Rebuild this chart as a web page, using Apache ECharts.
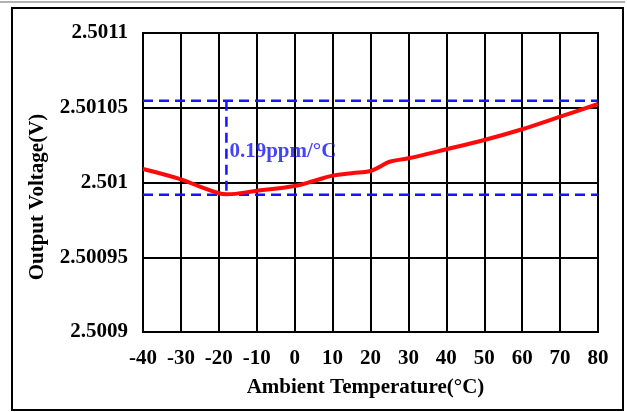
<!DOCTYPE html>
<html>
<head>
<meta charset="utf-8">
<script src="https://cdn.jsdelivr.net/npm/echarts@6/dist/echarts.min.js"></script>
<style>
html,body{margin:0;padding:0;background:#fff;}
#chart{width:627px;height:412px;}
</style>
</head>
<body>
<div id="chart"></div>
<script>
// Temperature (°C) and output voltage (V) of the red curve
var temps    = [-40, -30, -25, -20, -18, -10, 0, 5, 10, 15, 20, 22.5, 25, 30, 40, 50, 60, 70, 80];
var voltages = [2.5010090, 2.5010021, 2.5009972, 2.5009928, 2.5009921, 2.5009945, 2.5009977, 2.5010010,
                2.5010046, 2.5010062, 2.5010077, 2.5010106, 2.5010139, 2.5010162, 2.5010222, 2.5010284,
                2.5010356, 2.5010440, 2.5010525];
// Reference (box-method) dashed lines
var boxTemps = [-40, 80];
var boxHigh = 2.5010547;
var boxLow = 2.5009918;
var minTemp = -18;
var annotationText = '0.19ppm/°C';
var annotationVoltage = 2.5010205;
// Axis
var xTicks = [-40, -30, -20, -10, 0, 10, 20, 30, 40, 50, 60, 70, 80];
var yTickLabels = ['2.5009', '2.50095', '2.501', '2.50105', '2.5011'];
var xTitle = 'Ambient Temperature(°C)';
var yTitle = 'Output Voltage(V)';

var font = "'Liberation Serif', 'Times New Roman', serif";
var chart = echarts.init(document.getElementById('chart'), null, {renderer: 'canvas'});

var curve = temps.map(function (t, i) { return [t, voltages[i]]; });
var blue = '#1414ff';
var dashStyle = {color: blue, width: 2.5, type: [10, 6]};

chart.setOption({
  animation: false,
  backgroundColor: '#fff',
  grid: {left: 143, top: 33, right: 29, bottom: 80, show: true, borderColor: '#000', borderWidth: 2, backgroundColor: 'transparent'},
  xAxis: {
    type: 'value', min: xTicks[0], max: xTicks[xTicks.length - 1], interval: 10,
    axisLine: {show: false}, axisTick: {show: false},
    splitLine: {show: true, lineStyle: {color: '#000', width: 2}},
    axisLabel: {color: '#000', fontFamily: font, fontWeight: 'bold', fontSize: 21, margin: 16},
    name: xTitle, nameLocation: 'middle', nameGap: 45,
    nameTextStyle: {color: '#000', fontFamily: font, fontWeight: 'bold', fontSize: 21, padding: [0, 10, 0, 0]}
  },
  yAxis: {
    type: 'value', min: 2.5009, max: 2.5011, interval: 0.00005,
    axisLine: {show: false}, axisTick: {show: false},
    splitLine: {show: true, lineStyle: {color: '#000', width: 2}},
    axisLabel: {color: '#000', fontFamily: font, fontWeight: 'bold', fontSize: 21, margin: 15,
      formatter: function (v) {
        var idx = Math.round((v - 2.5009) / 0.00005);
        return yTickLabels[idx] !== undefined ? yTickLabels[idx] : String(parseFloat(v.toFixed(5)));
      }}
  },
  graphic: [
    {type: 'rect', shape: {x: 12, y: 8, width: 611, height: 402}, style: {fill: 'none', stroke: '#000', lineWidth: 2}, z: 100},
    {type: 'line', shape: {x1: 0, y1: 2, x2: 625, y2: 2}, style: {stroke: '#999', lineWidth: 1.5}, z: 100},
    {type: 'text', x: 38, y: 197, rotation: Math.PI / 2, z: 100,
      style: {text: yTitle, fill: '#000', font: "bold 21px 'Liberation Serif', 'Times New Roman', serif",
        textAlign: 'center', textVerticalAlign: 'middle'}}
  ],
  series: [
    {type: 'line', data: boxTemps.map(function (t) { return [t, boxHigh]; }), symbol: 'none', lineStyle: dashStyle, z: 3},
    {type: 'line', data: boxTemps.map(function (t) { return [t, boxLow]; }), symbol: 'none', lineStyle: dashStyle, z: 3},
    {type: 'line', data: [[minTemp, boxHigh], [minTemp, boxLow]], symbol: 'none', lineStyle: dashStyle, z: 3},
    {type: 'line', data: curve, smooth: 0.4, symbol: 'none', lineStyle: {color: '#ff0a0a', width: 4}, z: 5},
    {type: 'scatter', data: [[minTemp, annotationVoltage]], symbolSize: 0, z: 6,
      label: {show: true, position: 'right', distance: 3, formatter: annotationText, color: blue,
        fontFamily: font, fontWeight: 'bold', fontSize: 21}}
  ]
});
</script>
</body>
</html>
